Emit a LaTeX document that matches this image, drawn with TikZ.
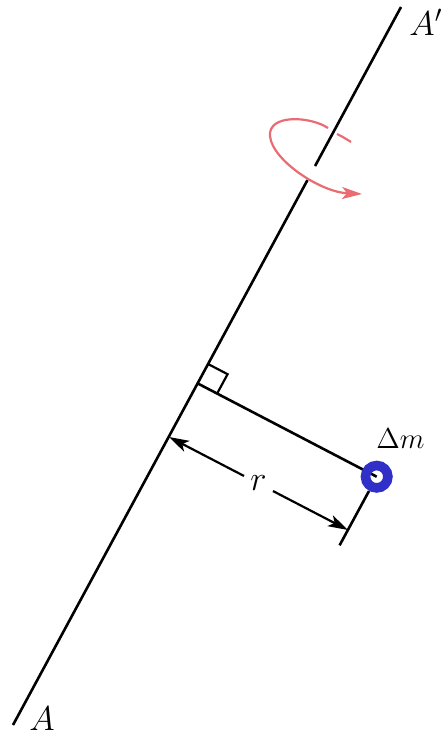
\documentclass[tikz,border=0pt]{standalone}
\usepackage{tikz}
\usetikzlibrary{calc, arrows.meta}

\definecolor{spinred}{RGB}{232,108,114}
\definecolor{massblue}{RGB}{48,48,200}

\begin{document}
\begin{tikzpicture}[
    x=0.5pt, y=-0.5pt,
    line/.style={line width=1.3pt},
    dim/.style={line width=1.1pt, -{Stealth[length=10pt, width=6pt, inset=2.5pt]}},
    spin/.style={line width=1.1pt, spinred},
    lbl/.style={inner sep=0pt, font=\fontsize{17.5}{20}\selectfont},
    smalllbl/.style={inner sep=0pt, font=\fontsize{15}{17}\selectfont}
  ]
  \useasboundingbox (0,0) rectangle (441,735);

  % axis A -- A'
  \coordinate (Abot) at (13,725);
  \coordinate (Atop) at (401,7);
  \coordinate (g1) at ($(Abot)!0.759!(Atop)$);
  \coordinate (g2) at ($(Abot)!0.7785!(Atop)$);
  \coordinate (foot) at ($(Abot)!0.4758!(Atop)$);
  \draw[line] (Abot) -- (g1);
  \draw[line] (g2) -- (Atop);

  \node[lbl, anchor=base west] (labA) at (29,730) {$A$};
  \node[lbl, anchor=base west] (labAp) at (409,35) {$A'$};

  % mass and its distance to the axis
  \coordinate (mass) at (376.7,476.7);
  \draw[line] (foot) -- (mass);
  \coordinate (c1) at ($(foot)!11pt!(Atop)$);
  \coordinate (c3) at ($(foot)!11pt!(mass)$);
  \draw[line width=1.1pt] (c1) -- ($(c1)+(c3)-(foot)$) -- (c3);

  % dimension r
  \coordinate (dL) at (169,437);
  \coordinate (dR) at (348,530);
  \coordinate (e1) at (369,491);
  \coordinate (e2) at (339.6,545.3);
  \draw[line] (e1) -- (e2);
  \node[lbl, inner sep=3pt] (r) at ($(dL)!0.5!(dR)$) {$r$};
  \draw[dim] (r) -- (dL);
  \draw[dim] (r) -- (dR);

  \draw[massblue, line width=4.8pt] (mass) circle[radius=5.6pt];
  \node[smalllbl, anchor=base west] (dm) at (376,448) {$\Delta m$};

  % rotation sense
  \coordinate (s0) at (328,128);
  \coordinate (sl) at (270,136);
  \coordinate (tip) at (362,194);
  \coordinate (b0) at (337,134);
  \coordinate (b1) at (351,142);
  \draw[spin] (b0) .. controls (343,137) .. (b1);
  \draw[spin, -{Stealth[length=10pt, width=6pt, inset=2.5pt]}]
    (s0) .. controls (310,116) and (268,114) .. (sl)
         .. controls (272,160) and (320,192) .. (tip);
\end{tikzpicture}
\end{document}
